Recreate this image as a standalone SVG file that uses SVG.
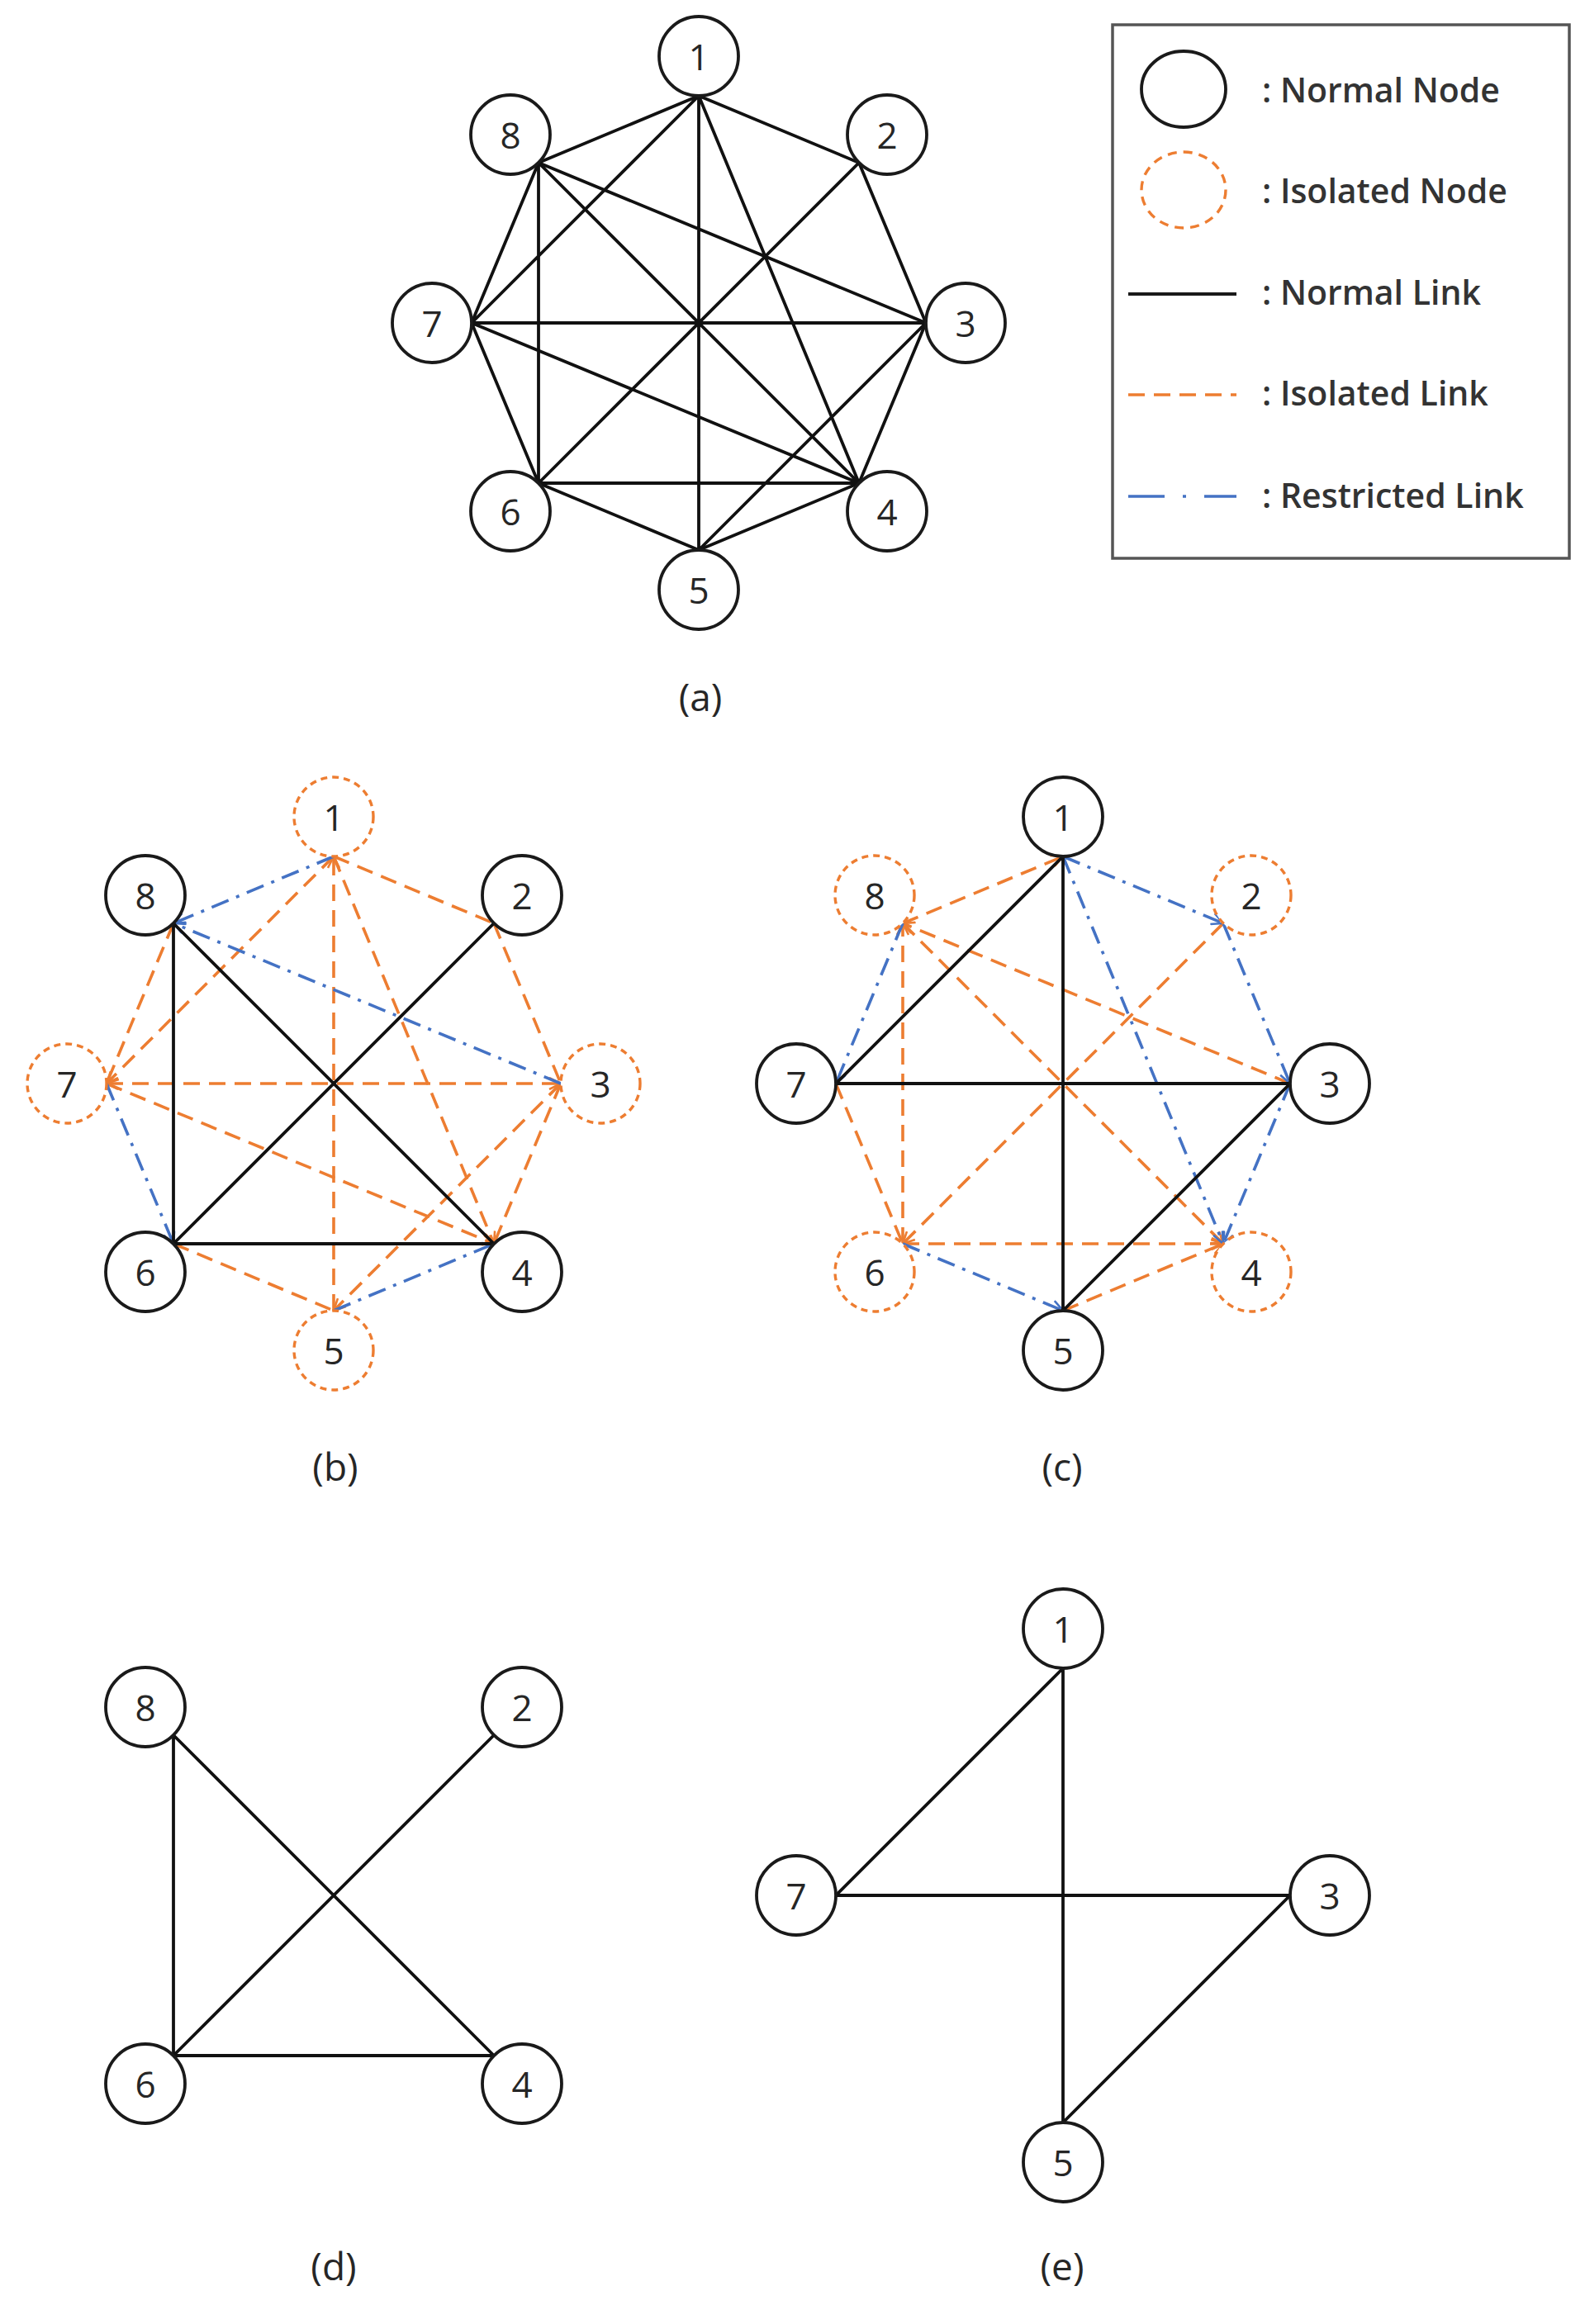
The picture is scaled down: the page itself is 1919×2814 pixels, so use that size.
<svg xmlns="http://www.w3.org/2000/svg" width="1919" height="2814" viewBox="0 0 1919 2814">
<style>
.k{stroke:#111;stroke-width:3.8;fill:none}
.o{stroke:#ED7D31;stroke-width:3.6;fill:none;stroke-dasharray:20 11}
.b{stroke:#4472C4;stroke-width:3.6;fill:none;stroke-dasharray:22 10 4 10}
.n{fill:#fff;stroke:#1a1a1a;stroke-width:3.8}
.i{fill:#fff;stroke:#ED7D31;stroke-width:3.4;stroke-dasharray:8 6}
.t{font-family:"Open Sans","DejaVu Sans",sans-serif;font-size:44px;font-weight:500;fill:#262626;text-anchor:middle;dominant-baseline:central}
.cap{font-family:"Open Sans","DejaVu Sans",sans-serif;font-size:46px;fill:#262626;text-anchor:middle;dominant-baseline:central}
.lg{font-family:"Open Sans","DejaVu Sans",sans-serif;font-size:41px;font-weight:600;fill:#333;dominant-baseline:central}
</style>
<defs>
<marker id="ao" viewBox="0 0 16 16" refX="15" refY="8" markerWidth="16" markerHeight="16" markerUnits="userSpaceOnUse" orient="auto-start-reverse"><path d="M1,1 L15,8 L1,15" fill="none" stroke="#ED7D31" stroke-width="2.6"/></marker>
<marker id="ab" viewBox="0 0 16 16" refX="15" refY="8" markerWidth="16" markerHeight="16" markerUnits="userSpaceOnUse" orient="auto-start-reverse"><path d="M1,1 L15,8 L1,15" fill="none" stroke="#4472C4" stroke-width="2.6"/></marker>
</defs>
<rect width="1919" height="2814" fill="#fff"/>

<g id="connectors">
<g id="conn-a" transform="translate(846,391)">
<path class="k" d="M0,-275L194,-194M0,-275L194,194M0,-275L0,275M0,-275L-275,0M0,-275L-194,-194M194,-194L275,0M194,-194L-194,194M275,0L194,194M275,0L0,275M275,0L-275,0M275,0L-194,-194M194,194L0,275M194,194L-194,194M194,194L-275,0M194,194L-194,-194M0,275L-194,194M-194,194L-275,0M-194,194L-194,-194M-275,0L-194,-194"/>
</g>
<g id="conn-b" transform="translate(404,1312)">
<path class="o" d="M0,-275L194,-194"/>
<path class="o" d="M0,-275L-275,0" marker-end="url(#ao)"/>
<path class="o" d="M0,275L0,-275" marker-end="url(#ao)"/>
<path class="o" d="M0,-275L194,194" marker-end="url(#ao)"/>
<path class="o" d="M194,-194L275,0"/>
<path class="o" d="M-194,-194L-275,0"/>
<path class="o" d="M-275,0L275,0" marker-start="url(#ao)" marker-end="url(#ao)"/>
<path class="o" d="M-275,0L194,194" marker-end="url(#ao)"/>
<path class="o" d="M275,0L194,194"/>
<path class="o" d="M275,0L0,275" marker-end="url(#ao)"/>
<path class="o" d="M-194,194L0,275"/>
<path class="b" d="M0,-275L-194,-194" marker-end="url(#ab)"/>
<path class="b" d="M275,0L-194,-194" marker-end="url(#ab)"/>
<path class="b" d="M-275,0L-194,194" marker-end="url(#ab)"/>
<path class="b" d="M0,275L194,194" marker-end="url(#ab)"/>
<path class="k" d="M-194,-194L-194,194M-194,-194L194,194M194,-194L-194,194M-194,194L194,194"/>
</g>
<g id="conn-c" transform="translate(1287,1312)">
<path class="o" d="M-194,-194L0,-275" marker-end="url(#ao)"/>
<path class="o" d="M275,0L-194,-194" marker-end="url(#ao)"/>
<path class="o" d="M-194,194L-194,-194" marker-end="url(#ao)"/>
<path class="o" d="M-194,-194L194,194" marker-end="url(#ao)"/>
<path class="o" d="M194,-194L-194,194" marker-end="url(#ao)"/>
<path class="o" d="M-194,194L194,194" marker-end="url(#ao)"/>
<path class="o" d="M0,275L194,194" marker-end="url(#ao)"/>
<path class="o" d="M-275,0L-194,194"/>
<path class="b" d="M0,-275L194,-194" marker-end="url(#ab)"/>
<path class="b" d="M194,-194L275,0" marker-end="url(#ab)"/>
<path class="b" d="M0,-275L194,194" marker-end="url(#ab)"/>
<path class="b" d="M275,0L194,194" marker-end="url(#ab)"/>
<path class="b" d="M-194,-194L-275,0" marker-end="url(#ab)"/>
<path class="b" d="M-194,194L0,275" marker-end="url(#ab)"/>
<path class="k" d="M0,-275L-275,0M0,-275L0,275M-275,0L275,0M275,0L0,275"/>
</g>
<g id="conn-d" transform="translate(404,2295)">
<path class="k" d="M-194,-194L-194,194M-194,-194L194,194M194,-194L-194,194M-194,194L194,194"/>
</g>
<g id="conn-e" transform="translate(1287,2295)">
<path class="k" d="M0,-275L-275,0M0,-275L0,275M-275,0L275,0M275,0L0,275"/>
</g>
</g>

<g id="panel-a" transform="translate(846,391)">
<g id="a1"><circle class="n" cx="0" cy="-323" r="48"/><text class="t" x="0" y="-323">1</text></g>
<g id="a2"><circle class="n" cx="228" cy="-228" r="48"/><text class="t" x="228" y="-228">2</text></g>
<g id="a3"><circle class="n" cx="323" cy="0" r="48"/><text class="t" x="323" y="0">3</text></g>
<g id="a4"><circle class="n" cx="228" cy="228" r="48"/><text class="t" x="228" y="228">4</text></g>
<g id="a5"><circle class="n" cx="0" cy="323" r="48"/><text class="t" x="0" y="323">5</text></g>
<g id="a6"><circle class="n" cx="-228" cy="228" r="48"/><text class="t" x="-228" y="228">6</text></g>
<g id="a7"><circle class="n" cx="-323" cy="0" r="48"/><text class="t" x="-323" y="0">7</text></g>
<g id="a8"><circle class="n" cx="-228" cy="-228" r="48"/><text class="t" x="-228" y="-228">8</text></g>
</g>
<g id="panel-b" transform="translate(404,1312)">
<g id="b1"><circle class="i" cx="0" cy="-323" r="48"/><text class="t" x="0" y="-323">1</text></g>
<g id="b2"><circle class="n" cx="228" cy="-228" r="48"/><text class="t" x="228" y="-228">2</text></g>
<g id="b3"><circle class="i" cx="323" cy="0" r="48"/><text class="t" x="323" y="0">3</text></g>
<g id="b4"><circle class="n" cx="228" cy="228" r="48"/><text class="t" x="228" y="228">4</text></g>
<g id="b5"><circle class="i" cx="0" cy="323" r="48"/><text class="t" x="0" y="323">5</text></g>
<g id="b6"><circle class="n" cx="-228" cy="228" r="48"/><text class="t" x="-228" y="228">6</text></g>
<g id="b7"><circle class="i" cx="-323" cy="0" r="48"/><text class="t" x="-323" y="0">7</text></g>
<g id="b8"><circle class="n" cx="-228" cy="-228" r="48"/><text class="t" x="-228" y="-228">8</text></g>
</g>
<g id="panel-c" transform="translate(1287,1312)">
<g id="c1"><circle class="n" cx="0" cy="-323" r="48"/><text class="t" x="0" y="-323">1</text></g>
<g id="c2"><circle class="i" cx="228" cy="-228" r="48"/><text class="t" x="228" y="-228">2</text></g>
<g id="c3"><circle class="n" cx="323" cy="0" r="48"/><text class="t" x="323" y="0">3</text></g>
<g id="c4"><circle class="i" cx="228" cy="228" r="48"/><text class="t" x="228" y="228">4</text></g>
<g id="c5"><circle class="n" cx="0" cy="323" r="48"/><text class="t" x="0" y="323">5</text></g>
<g id="c6"><circle class="i" cx="-228" cy="228" r="48"/><text class="t" x="-228" y="228">6</text></g>
<g id="c7"><circle class="n" cx="-323" cy="0" r="48"/><text class="t" x="-323" y="0">7</text></g>
<g id="c8"><circle class="i" cx="-228" cy="-228" r="48"/><text class="t" x="-228" y="-228">8</text></g>
</g>
<g id="panel-d" transform="translate(404,2295)">
<g id="d2"><circle class="n" cx="228" cy="-228" r="48"/><text class="t" x="228" y="-228">2</text></g>
<g id="d4"><circle class="n" cx="228" cy="228" r="48"/><text class="t" x="228" y="228">4</text></g>
<g id="d6"><circle class="n" cx="-228" cy="228" r="48"/><text class="t" x="-228" y="228">6</text></g>
<g id="d8"><circle class="n" cx="-228" cy="-228" r="48"/><text class="t" x="-228" y="-228">8</text></g>
</g>
<g id="panel-e" transform="translate(1287,2295)">
<g id="e1"><circle class="n" cx="0" cy="-323" r="48"/><text class="t" x="0" y="-323">1</text></g>
<g id="e3"><circle class="n" cx="323" cy="0" r="48"/><text class="t" x="323" y="0">3</text></g>
<g id="e5"><circle class="n" cx="0" cy="323" r="48"/><text class="t" x="0" y="323">5</text></g>
<g id="e7"><circle class="n" cx="-323" cy="0" r="48"/><text class="t" x="-323" y="0">7</text></g>
</g>

<g id="captions">
<text class="cap" x="848" y="843">(a)</text>
<text class="cap" x="406" y="1775">(b)</text>
<text class="cap" x="1286" y="1775">(c)</text>
<text class="cap" x="404" y="2743">(d)</text>
<text class="cap" x="1286" y="2743">(e)</text>
</g>

<g id="legend">
<rect x="1347" y="30" width="553" height="646" fill="#fff" stroke="#555" stroke-width="3.5"/>
<ellipse cx="1433" cy="108" rx="51" ry="46" fill="none" stroke="#1a1a1a" stroke-width="3.8"/>
<ellipse cx="1433" cy="230" rx="51" ry="46" fill="none" stroke="#ED7D31" stroke-width="3.4" stroke-dasharray="11 8"/>
<line x1="1366" y1="356" x2="1497" y2="356" stroke="#1a1a1a" stroke-width="3.8"/>
<line x1="1366" y1="478" x2="1497" y2="478" stroke="#ED7D31" stroke-width="3.6" stroke-dasharray="20 11"/>
<line x1="1366" y1="601" x2="1497" y2="601" stroke="#4472C4" stroke-width="3.6" stroke-dasharray="44 22 4 22"/>
<text class="lg" x="1528" y="108">: Normal Node</text>
<text class="lg" x="1528" y="230">: Isolated Node</text>
<text class="lg" x="1528" y="353">: Normal Link</text>
<text class="lg" x="1528" y="475">: Isolated Link</text>
<text class="lg" x="1528" y="599">: Restricted Link</text>
</g>
</svg>
